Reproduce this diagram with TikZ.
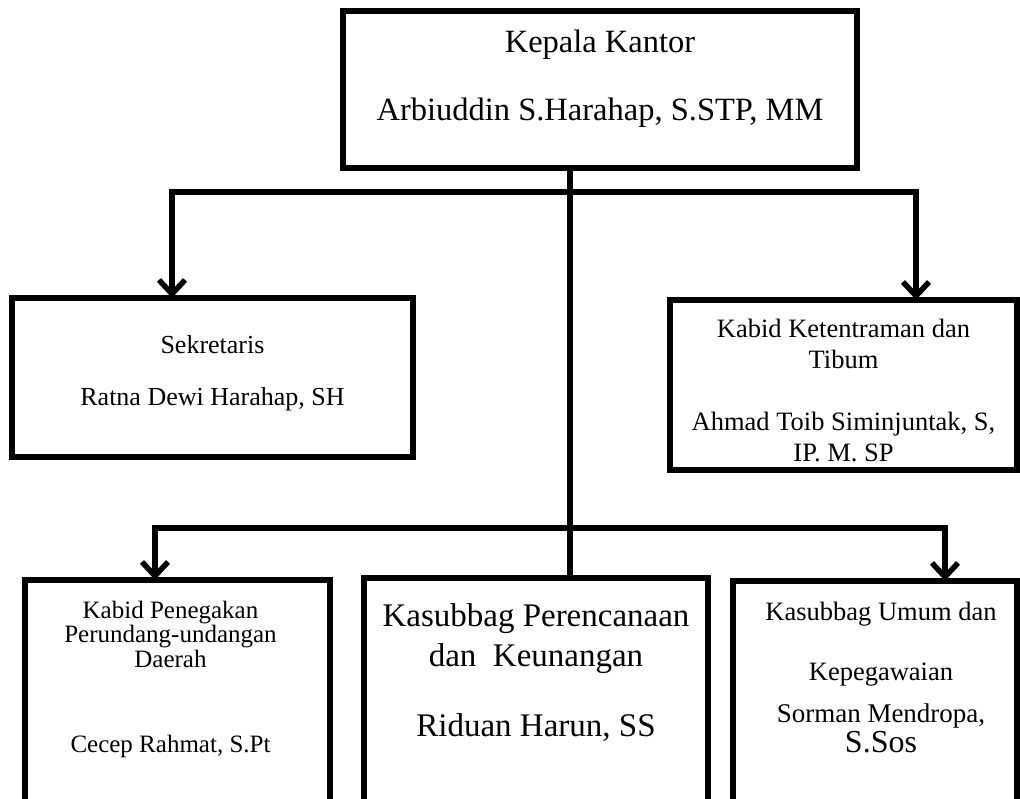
\documentclass[tikz,border=0pt]{standalone}
\usepackage{fontspec}
\setmainfont{Liberation Serif}
\usetikzlibrary{arrows.meta,positioning,calc}
\tikzset{orgbox/.style={rectangle, draw=black, line width=5.5pt, inner sep=0pt, outer sep=0pt}}
\tikzset{boxtext/.style={anchor=north, align=center, inner sep=0pt, outer sep=0pt}}
\tikzset{trunk/.style={line width=5.5pt}}
\tikzset{arrow/.style={line width=5.5pt, -{Straight Barb[length=14pt,width=26pt]}}}

\begin{document}
\begin{tikzpicture}[x=1pt, y=-1pt]
  \clip (0,0) rectangle (1020,799);

  % boxes
  \node[orgbox, minimum width=514pt, minimum height=157pt] (kepala) at (600,89.5) {};
  \node[orgbox, minimum width=401pt, minimum height=159pt] (sekretaris) at (212.5,377.5) {};
  \node[orgbox, minimum width=347pt, minimum height=170pt] (ketentraman) at (843.5,385) {};
  \node[orgbox, minimum width=305pt, minimum height=250pt] (penegakan) at (177.5,705) {};
  \node[orgbox, minimum width=344pt, minimum height=252pt] (perencanaan) at (536,704) {};
  \node[orgbox, minimum width=284pt, minimum height=250pt] (umum) at (875,706) {};

  % texts
  \node[boxtext, below=18.6pt of kepala.north, font=\fontsize{32.5}{68}\selectfont] (kepala-text)
    {Kepala Kantor\\Arbiuddin S.Harahap, S.STP, MM};
  \node[boxtext, below=37.7pt of sekretaris.north, font=\fontsize{26}{52}\selectfont] (sekretaris-text)
    {Sekretaris\\Ratna Dewi Harahap, SH};
  \node[boxtext, below=18.7pt of ketentraman.north, font=\fontsize{26.5}{31}\selectfont] (ketentraman-text)
    {Kabid Ketentraman dan\\Tibum\\[31pt]Ahmad Toib Siminjuntak, S,\\IP. M. SP};
  \node[boxtext, below=20.7pt of penegakan.north, xshift=-7pt, font=\fontsize{25}{24.5}\selectfont] (penegakan-text)
    {Kabid Penegakan\\Perundang-undangan\\Daerah\\[60.5pt]Cecep Rahmat, S.Pt};
  \node[boxtext, below=25.2pt of perencanaan.north, font=\fontsize{33}{40}\selectfont] (perencanaan-text)
    {Kasubbag Perencanaan\\dan\ \ Keunangan\\[30pt]Riduan Harun, SS};
  \node[boxtext, below=20.7pt of umum.north, xshift=6pt, font=\fontsize{26.5}{30}\selectfont] (umum-text)
    {Kasubbag Umum dan\\[30pt]Kepegawaian\\[12pt]{\fontsize{27}{30}\selectfont Sorman Mendropa,}\\{\fontsize{32}{30}\selectfont S.Sos}};

  % connectors
  \coordinate (trunk-top) at ([xshift=-30pt]kepala.south);
  \coordinate (upper-fork) at ([yshift=-24pt]trunk-top);
  \coordinate (lower-fork) at ([yshift=-360pt]trunk-top);

  \draw[trunk] (trunk-top) -- (trunk-top |- perencanaan.north);
  \draw[arrow] (upper-fork) -| ([xshift=-40.5pt]sekretaris.north);
  \draw[arrow] (upper-fork) -| ([xshift=72.5pt]ketentraman.north);
  \draw[arrow] (lower-fork) -| ([xshift=-22.5pt]penegakan.north);
  \draw[arrow] (lower-fork) -| ([xshift=70pt]umum.north);
\end{tikzpicture}
\end{document}
